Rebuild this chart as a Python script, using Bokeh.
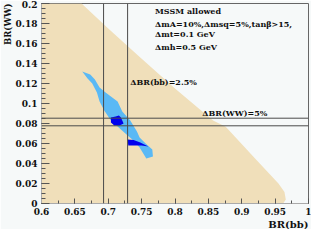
import numpy as np
from bokeh.plotting import figure
from bokeh.models import (Span, Label, Legend, LegendItem, FixedTicker, Title)
from bokeh.embed import file_html
from bokeh.resources import INLINE

# ---- data ----
mssm_x = [0.6, 0.6, 0.660, 0.700, 0.743, 0.800, 0.857, 0.876, 0.920, 0.955, 0.964, 0.966, 0.962]
mssm_y = [0.0, 0.2, 0.200, 0.175, 0.149, 0.115, 0.083, 0.0768, 0.045, 0.020, 0.0116, 0.004, 0.0]

band_x = [0.661, 0.669, 0.676, 0.683, 0.687, 0.694, 0.703, 0.714, 0.724, 0.736, 0.747, 0.757,
          0.767, 0.766, 0.756, 0.747, 0.743, 0.733, 0.721, 0.714, 0.704, 0.696, 0.687, 0.680, 0.673]
band_y = [0.132, 0.125, 0.120, 0.111, 0.102, 0.093, 0.084, 0.077, 0.071, 0.064, 0.056, 0.045,
          0.047, 0.054, 0.060, 0.066, 0.072, 0.083, 0.092, 0.102, 0.107, 0.111, 0.116, 0.124, 0.129]

mh1_x = [0.704, 0.711, 0.716, 0.719, 0.721, 0.723, 0.717, 0.709, 0.704]
mh1_y = [0.086, 0.087, 0.088, 0.086, 0.083, 0.080, 0.078, 0.078, 0.081]
mh2_x = [0.729, 0.738, 0.748, 0.760, 0.750, 0.738, 0.730]
mh2_y = [0.064, 0.0635, 0.061, 0.057, 0.058, 0.058, 0.058]

bb_lines = [0.693, 0.729]
ww_lines = [0.0777, 0.0853]

x_ticks = [0.6, 0.65, 0.7, 0.75, 0.8, 0.85, 0.9, 0.95, 1.0]
x_labels = ["0.6", "0.65", "0.7", "0.75", "0.8", "0.85", "0.9", "0.95", "1"]
y_ticks = [0.0, 0.02, 0.04, 0.06, 0.08, 0.1, 0.12, 0.14, 0.16, 0.18, 0.2]
y_labels = ["0", "0.02", "0.04", "0.06", "0.08", "0.1", "0.12", "0.14", "0.16", "0.18", "0.2"]

legend_labels = ["MSSM allowed",
                 "ΔmA=10%,Δmsq=5%,tanβ>15,\nΔmt=0.1 GeV",
                 "Δmh=0.5 GeV"]

BEIGE = "#f0dfba"
LIGHTBLUE = "#5ab9f5"
DARKBLUE = "#0000ee"
BG = "#f6f9f9"
LINE = "#4a4a4a"
FONT = "DejaVu Serif"
TXT = "#111111"

p = figure(width=311, height=229, x_range=(0.6, 1.0), y_range=(0.0, 0.2),
           output_backend="svg", toolbar_location=None,
           background_fill_color=BG, border_fill_color=BG)
p.min_border_left = 40
p.min_border_right = 3
p.min_border_top = 3
p.min_border_bottom = 22
p.grid.visible = False
p.outline_line_color = "#666666"

r_mssm = p.patch(mssm_x, mssm_y, fill_color=BEIGE, line_color=None)
r_band = p.patch(band_x, band_y, fill_color=LIGHTBLUE, line_color=None)
r_h1 = p.patch(mh1_x, mh1_y, fill_color=DARKBLUE, line_color=None)
r_h2 = p.patch(mh2_x, mh2_y, fill_color=DARKBLUE, line_color=None)

for v in bb_lines:
    p.add_layout(Span(location=v, dimension="height", line_color=LINE, line_width=1))
for v in ww_lines:
    p.add_layout(Span(location=v, dimension="width", line_color=LINE, line_width=1))

# axes
p.xaxis.ticker = FixedTicker(ticks=x_ticks, minor_ticks=list(np.round(np.arange(0.6, 1.0001, 0.025), 3)))
p.yaxis.ticker = FixedTicker(ticks=y_ticks, minor_ticks=list(np.round(np.arange(0.0, 0.2001, 0.005), 3)))
p.xaxis.major_label_overrides = dict(zip(x_ticks, x_labels))
p.yaxis.major_label_overrides = dict(zip(y_ticks, y_labels))
for ax in (p.xaxis, p.yaxis):
    ax.axis_line_color = "#aaaaaa"
    ax.major_tick_line_color = "#555555"
    ax.minor_tick_line_color = "#555555"
    ax.major_tick_out = 0
    ax.minor_tick_out = 0
    ax.major_label_text_font = FONT
    ax.major_label_text_font_style = "bold"
    ax.major_label_text_font_size = "9px"
    ax.major_label_text_color = TXT
p.xaxis.major_tick_in = 5
p.xaxis.minor_tick_in = 3
p.yaxis.major_tick_in = 8
p.yaxis.minor_tick_in = 4
p.xaxis.major_label_standoff = 4
p.yaxis.major_label_standoff = 4

# axis titles as side titles (right-aligned / top-aligned)
p.add_layout(Title(text="BR(WW)", align="right", standoff=0, offset=0,
                   text_font=FONT, text_font_style="bold", text_font_size="8.5px",
                   text_color=TXT), "left")
p.add_layout(Title(text="BR(bb)", align="right", standoff=-1, offset=0,
                   text_font=FONT, text_font_style="bold", text_font_size="10px",
                   text_color=TXT), "below")

# in-plot annotations
p.add_layout(Label(x=0.733, y=0.1217, text="ΔBR(bb)=2.5%", text_align="left",
                   text_baseline="middle", text_font=FONT, text_font_style="bold",
                   text_font_size="8px", text_color=TXT))
p.add_layout(Label(x=0.841, y=0.0908, text="ΔBR(WW)=5%", text_align="left",
                   text_baseline="middle", text_font=FONT, text_font_style="bold",
                   text_font_size="8px", text_color=TXT))

# legend swatches (empty renderers carrying the style)
s1 = p.quad(left=[], right=[], top=[], bottom=[], fill_color=BEIGE, line_color="#555555")
s2 = p.quad(left=[], right=[], top=[], bottom=[], fill_color=LIGHTBLUE, line_color="#555555")
s3 = p.quad(left=[], right=[], top=[], bottom=[], fill_color=DARKBLUE, line_color="#555555")

legend = Legend(items=[LegendItem(label=legend_labels[0], renderers=[s1]),
                       LegendItem(label=legend_labels[1], renderers=[s2]),
                       LegendItem(label=legend_labels[2], renderers=[s3])],
                location=(101, 151))
legend.label_text_font = FONT
legend.label_text_font_style = "bold"
legend.label_text_font_size = "8px"
legend.label_text_color = TXT
legend.glyph_width = 9
legend.glyph_height = 9
legend.label_height = 9
legend.label_standoff = 4
legend.spacing = 3
legend.padding = 0
legend.margin = 0
legend.border_line_color = None
legend.background_fill_alpha = 0
p.add_layout(legend)

open("out.html", "w").write(file_html(p, INLINE))
